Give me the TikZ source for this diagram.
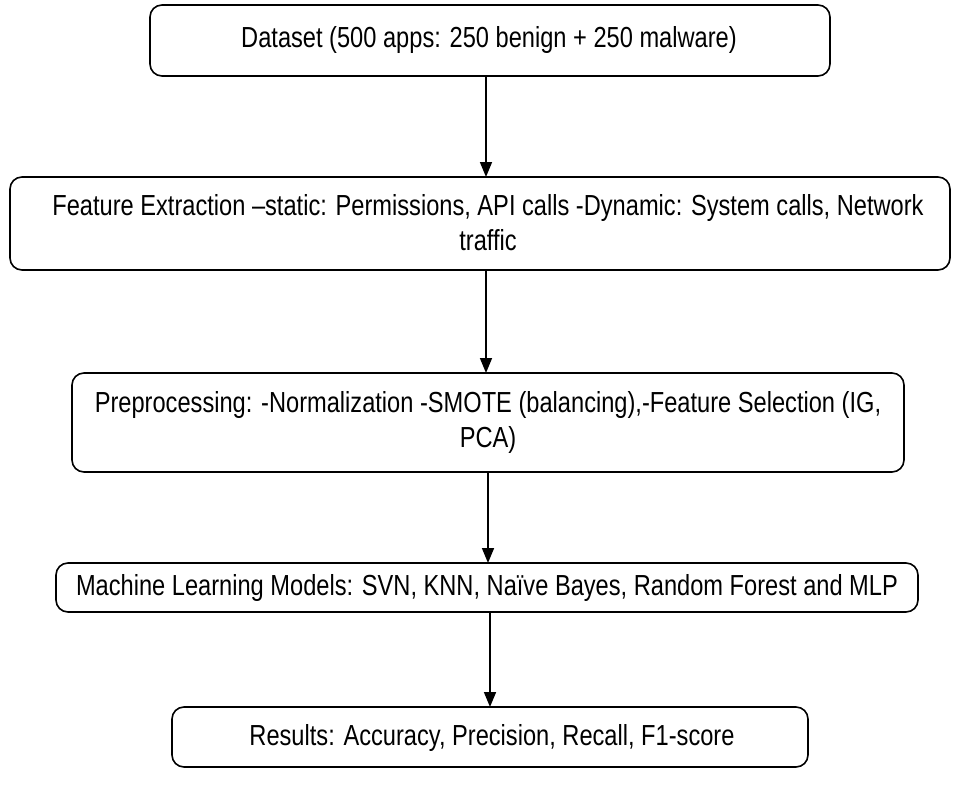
\documentclass[tikz,border=0pt]{standalone}
\usepackage{fontspec}
\setmainfont{Liberation Sans}[FakeStretch=0.815]
\usetikzlibrary{arrows.meta}
\begin{document}
\begin{tikzpicture}[x=1pt,y=-1pt,
  stagebox/.style={draw=black,line width=1.6pt,rounded corners=12pt},
  stagetext/.style={font=\fontsize{29}{35}\selectfont,align=center,inner sep=0pt},
  flow/.style={line width=1.6pt,-{Triangle[length=15pt,width=12pt]}}]
\useasboundingbox (0,0) rectangle (953,789);
% stage boxes
\draw[stagebox] (150,5) rectangle (830,76);
\draw[stagebox] (10,177) rectangle (950,270);
\draw[stagebox] (72,373) rectangle (904,472);
\draw[stagebox] (56,563) rectangle (918,612);
\draw[stagebox] (172,707) rectangle (808,767);
\coordinate (b1s) at (486,76);
\coordinate (b2n) at (486,177);
\coordinate (b2s) at (486,270);
\coordinate (b3n) at (486,373);
\coordinate (b3s) at (488,472);
\coordinate (b4n) at (488,563);
\coordinate (b4s) at (490,612);
\coordinate (b5n) at (490,707);
% labels
\node[stagetext] (t1) at (489,40) {Dataset (500 apps: 250 benign + 250 malware)};
\node[stagetext] (t2) at (488,223) {Feature Extraction –static: Permissions, API calls -Dynamic: System calls, Network\\traffic};
\node[stagetext] (t3) at (488,422) {Preprocessing: -Normalization -SMOTE (balancing),-Feature Selection (IG,\\PCA)};
\node[stagetext] (t4) at (487,588) {Machine Learning Models: SVN, KNN, Naïve Bayes, Random Forest and MLP};
\node[stagetext] (t5) at (492,738) {Results: Accuracy, Precision, Recall, F1-score};
% connectors
\draw[flow] (b1s) -- (b2n);
\draw[flow] (b2s) -- (b3n);
\draw[flow] (b3s) -- (b4n);
\draw[flow] (b4s) -- (b5n);
\end{tikzpicture}
\end{document}
